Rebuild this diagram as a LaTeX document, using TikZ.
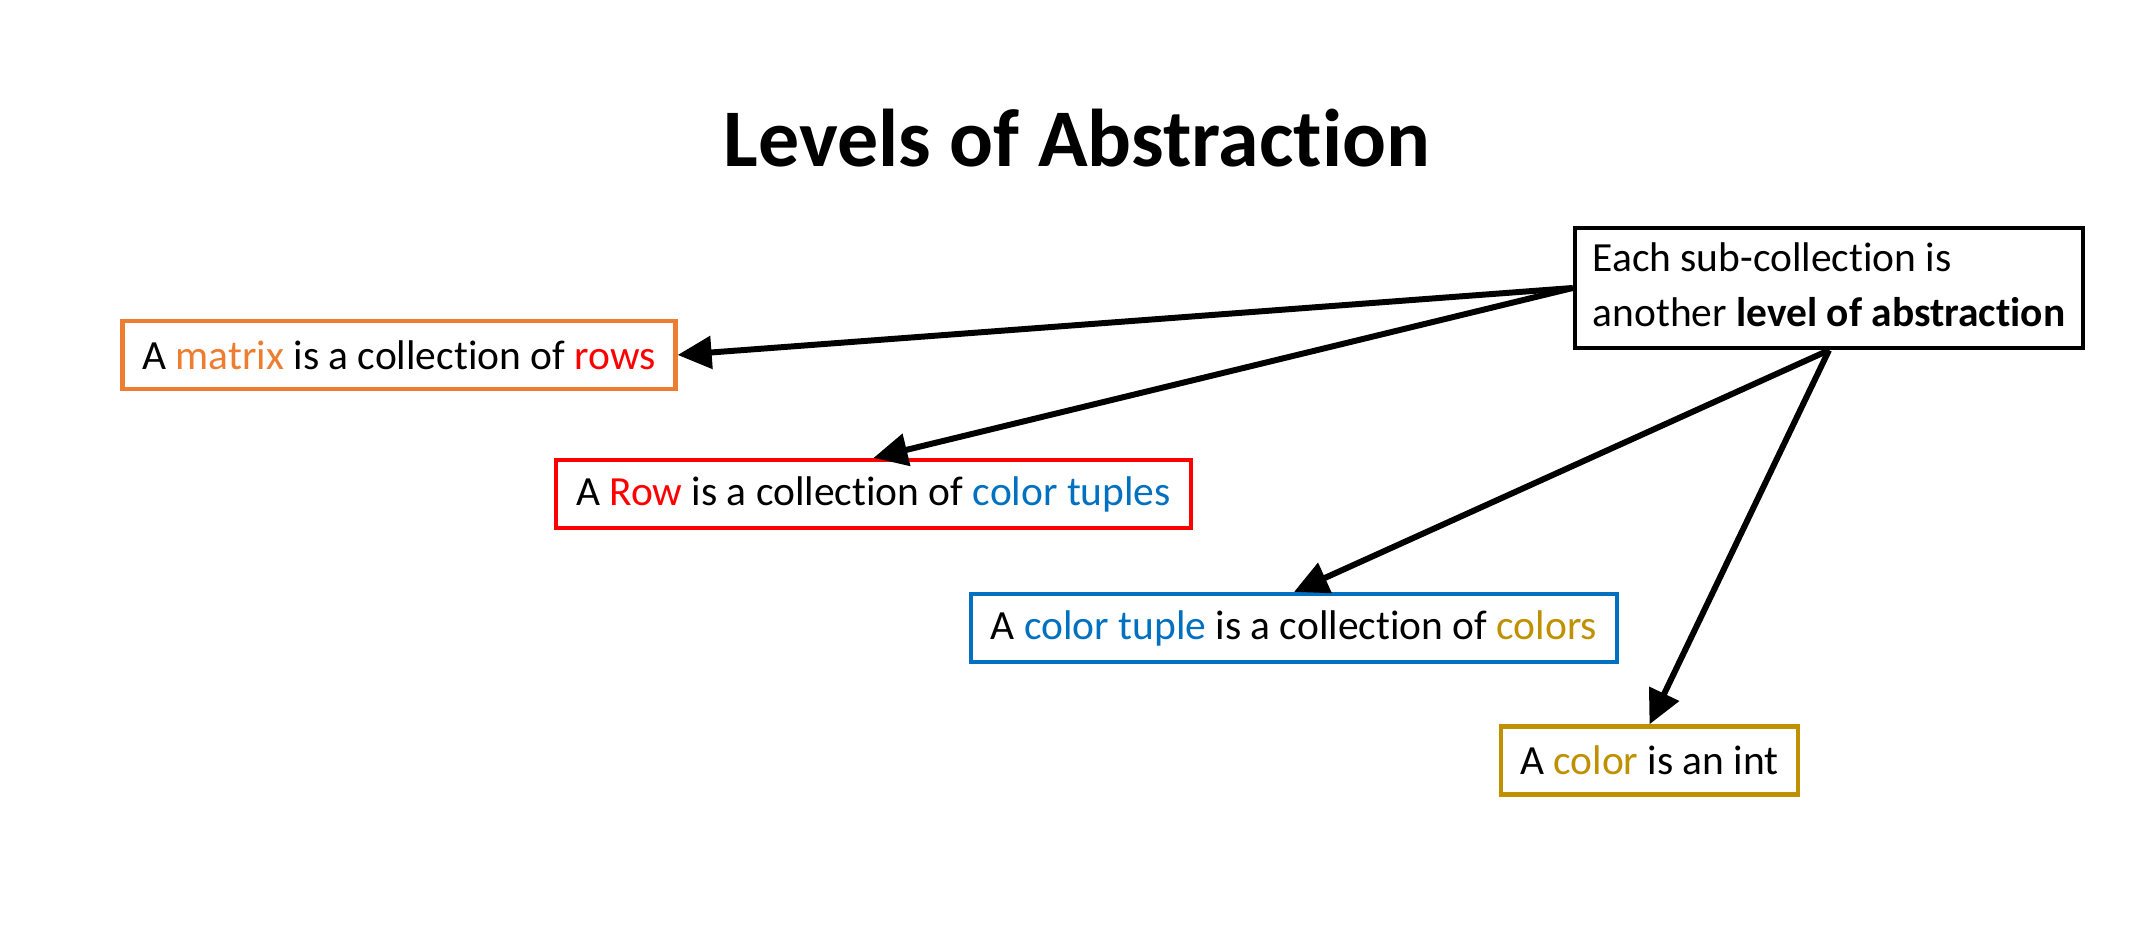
\documentclass[tikz,border=0pt]{standalone}
\usepackage{fontspec}
\setmainfont{Carlito}[RawFeature={-liga;-clig;-rlig;-calt;-dlig}]
\usetikzlibrary{arrows.meta}

\definecolor{cOrange}{HTML}{ED7D31}
\definecolor{cRed}{HTML}{FF0000}
\definecolor{cBlue}{HTML}{0070C0}
\definecolor{cGold}{HTML}{BF9000}

\tikzset{
  levelbox/.style={draw=#1, line width=1.2pt, fill=white, rectangle,
    inner sep=0pt, minimum height=0.68cm,
    font=\fontsize{11.8}{14}\selectfont, text=black},
  notebox/.style={draw=black, line width=1.25pt, fill=white, rectangle,
    inner sep=0pt, minimum width=5.08cm, minimum height=1.2cm,
    align=left, font=\fontsize{11.8}{15.5}\selectfont},
  pointer/.style={draw=black, line width=1.7pt,
    -{Triangle[length=0.34cm, width=0.32cm]}},
  heading/.style={font=\bfseries\fontsize{23.3}{28}\selectfont, inner sep=0pt}
}

\begin{document}
\begin{tikzpicture}
  \useasboundingbox (0,0) rectangle (21.32,9.30);

  % title
  \node[heading, anchor=base] (title) at (10.77,7.63) {Levels of Abstraction};

  % one box per level of the nested collections
  \node[levelbox=cOrange, minimum width=5.53cm] (matrix) at (3.99,5.75)
    {A \textcolor{cOrange}{matrix} is a collection of \textcolor{cRed}{rows}};
  \node[levelbox=cRed, minimum width=6.35cm] (row) at (8.735,4.36)
    {A \textcolor{cRed}{Row} is a collection of \textcolor{cBlue}{color tuples}};
  \node[levelbox=cBlue, minimum width=6.46cm] (tuple) at (12.94,3.02)
    {A \textcolor{cBlue}{color tuple} is a collection of \textcolor{cGold}{colors}};
  \node[levelbox=cGold, minimum width=2.97cm] (color) at (16.495,1.695)
    {A \textcolor{cGold}{color} is an int};

  % explanatory note
  \node[notebox] (note) at (18.29,6.42)
    {\begin{tabular}{@{}l@{}}Each sub-collection is\\another \textbf{level of abstraction}\end{tabular}};

  % pointers from the note to each level
  \draw[pointer] (note.west) -- (matrix.east);
  \draw[pointer] (note.west) -- (row.north);
  \draw[pointer] (note.south) -- (tuple.north);
  \draw[pointer] (note.south) -- (color.north);
\end{tikzpicture}
\end{document}
